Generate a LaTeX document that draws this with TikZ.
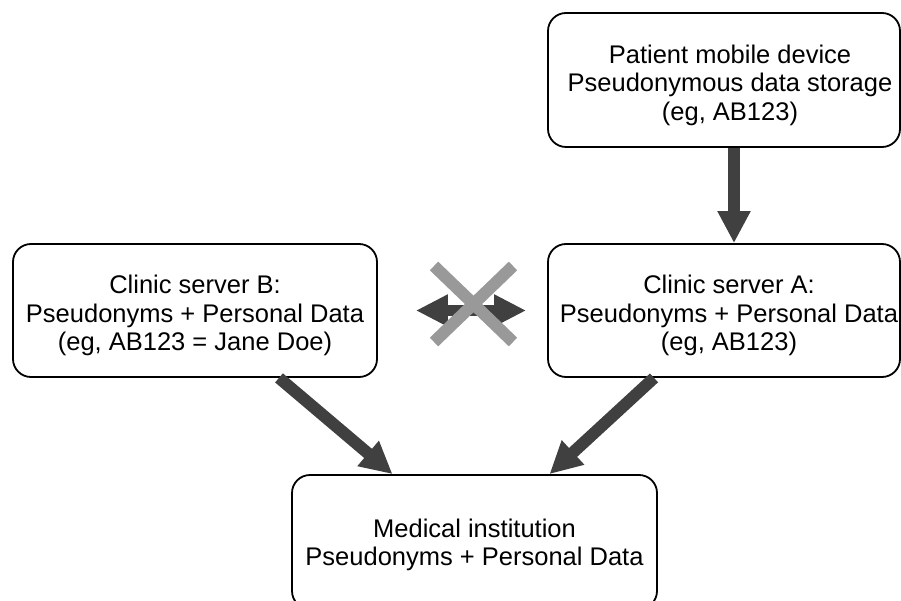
\documentclass[tikz,border=0pt]{standalone}
\usepackage{fontspec}
\setmainfont{Liberation Sans}
\usetikzlibrary{arrows.meta}
\definecolor{arrowgray}{HTML}{404040}
\definecolor{crossgray}{HTML}{999999}
\tikzset{
	box/.style={draw=black, line width=1.8pt, rounded corners=18pt, inner sep=0pt},
	boxtext/.style={align=center, inner sep=0pt, font=\fontsize{25.5}{28.5}\selectfont},
	flow/.style={draw=arrowgray, line width=12pt, -{Triangle[length=32pt,width=31pt]}},
	flowboth/.style={draw=arrowgray, line width=11pt, {Triangle[length=32pt,width=30pt]}-{Triangle[length=32pt,width=30pt]}},
}
\begin{document}
\begin{tikzpicture}[x=1pt,y=-1pt]
			\useasboundingbox (0,0) rectangle (901,601);
			\clip (0,0) rectangle (901,601);
			\node [box, minimum width=352pt, minimum height=134pt] (patient) at (724,80) {};
			\node [box, minimum width=352pt, minimum height=133pt] (clinicA) at (724,310.5) {};
			\node [box, minimum width=364pt, minimum height=133pt] (clinicB) at (195,310.5) {};
			\node [box, minimum width=365pt, minimum height=134pt] (medical) at (474.5,542) {};
			\node [boxtext] (patientText) at ([xshift=6pt,yshift=-5pt]patient.center) {Patient mobile device\\Pseudonymous data storage\\(eg, AB123)};
			\node [boxtext] (clinicAText) at ([xshift=5pt,yshift=-5pt]clinicA.center) {Clinic server A:\\Pseudonyms + Personal Data\\(eg, AB123)};
			\node [boxtext] (clinicBText) at ([yshift=-5pt]clinicB.center) {Clinic server B:\\Pseudonyms + Personal Data\\(eg, AB123 = Jane Doe)};
			\node [boxtext] (medicalText) at ([yshift=-3pt]medical.center) {Medical institution\\Pseudonyms + Personal Data};
			\draw [flow] ([xshift=10pt]patient.south) -- ([xshift=10pt]clinicA.north);
			\draw [flow] ([xshift=84pt]clinicB.south) -- ([xshift=-82pt]medical.north);
			\draw [flow] ([xshift=-70pt]clinicA.south) -- ([xshift=75pt]medical.north);
			\draw [flowboth, shorten <=38pt, shorten >=21pt] (clinicB.east) -- (clinicA.west);
			\coordinate (cross) at (473.5,304);
			\draw [crossgray, line width=12pt] ([shift={(-39.5,-38)}]cross) -- ([shift={(39.5,38)}]cross);
			\draw [crossgray, line width=12pt] ([shift={(39.5,-38)}]cross) -- ([shift={(-39.5,38)}]cross);
		\end{tikzpicture}
\end{document}
